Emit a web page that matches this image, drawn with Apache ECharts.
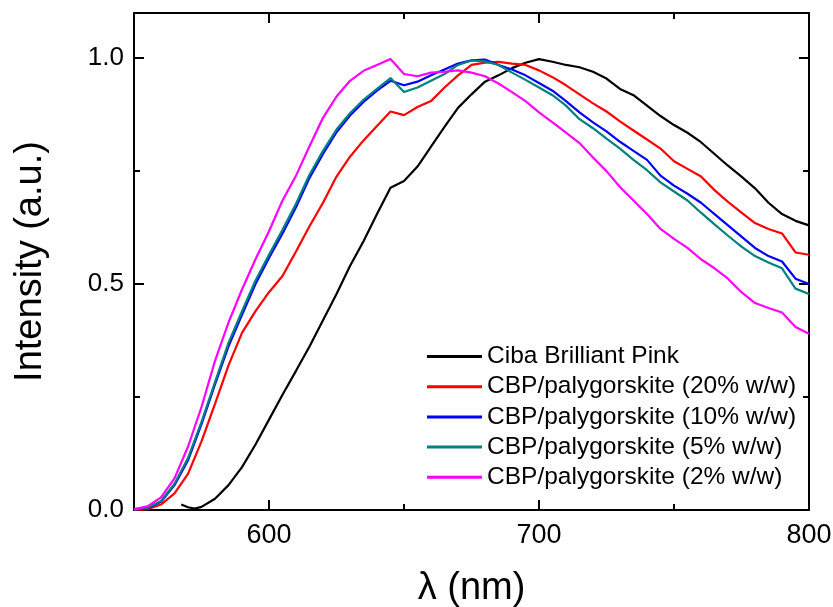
<!DOCTYPE html>
<html>
<head>
<meta charset="utf-8">
<script src="https://cdn.jsdelivr.net/npm/echarts@6/dist/echarts.min.js"></script>
<style>html,body{margin:0;padding:0;background:#fff;}#chart{width:833px;height:607px;}</style>
</head>
<body>
<div id="chart"></div>
<script>
// ---- data ----
const seriesNames = ['Ciba Brilliant Pink','CBP/palygorskite (20% w/w)','CBP/palygorskite (10% w/w)','CBP/palygorskite (5% w/w)','CBP/palygorskite (2% w/w)'];
const wavelength = [550,555,560,565,570,575,580,585,590,595,600,605,610,615,620,625,630,635,640,645,650,655,660,665,670,675,680,685,690,695,700,705,710,715,720,725,730,735,740,745,750,755,760,765,770,775,780,785,790,795,800];
const blackWavelength = [567.5,570,572.5,575,580,585,590,595,600,605,610,615,620,625,630,635,640,645,650,655,660,665,670,675,680,685,690,695,700,705,710,715,720,725,730,735,740,745,750,755,760,765,770,775,780,785,790,795,800];
const cibaPink = [0.012,0.006,0.003,0.007,0.025,0.055,0.095,0.145,0.200,0.255,0.308,0.362,0.420,0.478,0.540,0.595,0.655,0.713,0.728,0.760,0.804,0.848,0.890,0.920,0.948,0.962,0.978,0.990,0.998,0.992,0.985,0.980,0.970,0.955,0.932,0.918,0.895,0.872,0.852,0.835,0.814,0.788,0.762,0.738,0.712,0.680,0.655,0.640,0.630];
const cbp20 = [0.000,0.002,0.012,0.037,0.080,0.152,0.235,0.320,0.392,0.440,0.482,0.518,0.572,0.628,0.680,0.738,0.782,0.818,0.850,0.882,0.874,0.892,0.905,0.935,0.962,0.985,0.990,0.992,0.988,0.985,0.973,0.958,0.940,0.920,0.900,0.882,0.860,0.840,0.820,0.800,0.772,0.755,0.738,0.708,0.682,0.658,0.635,0.622,0.612,0.570,0.565];
const cbp10 = [0.001,0.004,0.018,0.055,0.110,0.190,0.278,0.362,0.432,0.500,0.558,0.612,0.670,0.735,0.788,0.836,0.873,0.903,0.928,0.950,0.940,0.948,0.962,0.975,0.988,0.995,0.997,0.985,0.975,0.962,0.945,0.928,0.905,0.880,0.858,0.838,0.815,0.795,0.775,0.740,0.718,0.700,0.680,0.655,0.630,0.605,0.580,0.562,0.550,0.512,0.500];
const cbp5 = [0.001,0.005,0.020,0.058,0.115,0.195,0.283,0.370,0.440,0.508,0.565,0.620,0.678,0.742,0.795,0.842,0.878,0.908,0.932,0.956,0.925,0.935,0.950,0.965,0.985,0.995,0.993,0.985,0.968,0.952,0.935,0.918,0.895,0.865,0.845,0.822,0.800,0.775,0.752,0.725,0.705,0.685,0.658,0.632,0.607,0.583,0.562,0.548,0.535,0.490,0.478];
const cbp2 = [0.002,0.008,0.028,0.070,0.140,0.228,0.330,0.415,0.488,0.555,0.617,0.685,0.740,0.805,0.868,0.915,0.950,0.972,0.985,0.998,0.965,0.960,0.968,0.970,0.973,0.968,0.960,0.944,0.925,0.905,0.880,0.858,0.835,0.812,0.780,0.750,0.715,0.685,0.655,0.622,0.600,0.580,0.555,0.535,0.512,0.482,0.458,0.447,0.437,0.405,0.390];
const xMajorTicks = [600,700,800];
const xMinorTicks = [650,750];
const yMajorTicks = [0,0.5,1.0];
const yMinorTicks = [0.25,0.75];
const colors = ['#000000','#ff0000','#0000ff','#008080','#ff00ff'];

const FONT = 'Liberation Sans, Arial, Helvetica, sans-serif';
const pairs = (xs, ys) => xs.map((x, i) => [x, ys[i]]);
const seriesData = [
  pairs(blackWavelength, cibaPink),
  pairs(wavelength, cbp20),
  pairs(wavelength, cbp10),
  pairs(wavelength, cbp5),
  pairs(wavelength, cbp2)
];

function xAx(pos, ticks, len, labels, line, name) {
  return {
    type: 'value', min: 550, max: 800, position: pos,
    name: name || '', nameLocation: 'middle', nameGap: 60,
    nameTextStyle: {fontSize: 38, color: '#000', fontFamily: FONT},
    axisLine: {show: line, onZero: false, lineStyle: {color: '#000', width: 2}},
    axisTick: {show: true, inside: true, length: len, customValues: ticks, lineStyle: {color: '#000', width: 2}},
    axisLabel: labels ? {show: true, customValues: ticks, fontSize: 27, color: '#000', fontFamily: FONT, margin: 12} : {show: false},
    splitLine: {show: false}
  };
}
function yAx(pos, ticks, len, labels, line, name) {
  return {
    type: 'value', min: 0, max: 1.1, position: pos,
    name: name || '', nameLocation: 'middle', nameGap: 84,
    nameTextStyle: {fontSize: 38, color: '#000', fontFamily: FONT},
    axisLine: {show: line, onZero: false, lineStyle: {color: '#000', width: 2}},
    axisTick: {show: true, inside: true, length: len, customValues: ticks, lineStyle: {color: '#000', width: 2}},
    axisLabel: labels ? {show: true, customValues: ticks, fontSize: 26, color: '#000', fontFamily: FONT, margin: 10,
      formatter: v => v.toFixed(1)} : {show: false},
    splitLine: {show: false}
  };
}

const chart = echarts.init(document.getElementById('chart'), null, {renderer: 'canvas'});
chart.setOption({
  animation: false,
  backgroundColor: '#fff',
  grid: {left: 134, right: 24, top: 13, bottom: 97, containLabel: false, outerBoundsMode: 'none'},
  xAxis: [
    xAx('bottom', xMajorTicks, 10, true, true, 'λ (nm)'),
    xAx('bottom', xMinorTicks, 6, false, false),
    xAx('top', xMajorTicks, 10, false, true),
    xAx('top', xMinorTicks, 6, false, false)
  ],
  yAxis: [
    yAx('left', yMajorTicks, 10, true, true, 'Intensity (a.u.)'),
    yAx('left', yMinorTicks, 6, false, false),
    yAx('right', yMajorTicks, 10, false, true),
    yAx('right', yMinorTicks, 6, false, false)
  ],
  legend: {
    orient: 'vertical', left: 422, top: 339,
    itemWidth: 55, itemHeight: 3, itemGap: 5.2,
    icon: 'rect',
    textStyle: {fontSize: 24.5, color: '#000', fontFamily: FONT},
    data: seriesNames
  },
  series: seriesNames.map((n, i) => ({
    name: n, type: 'line', xAxisIndex: 0, yAxisIndex: 0,
    data: seriesData[i], showSymbol: false, symbol: 'none',
    lineStyle: {color: colors[i], width: 2.2}, itemStyle: {color: colors[i]},
    smooth: false
  }))
});
</script>
</body>
</html>
